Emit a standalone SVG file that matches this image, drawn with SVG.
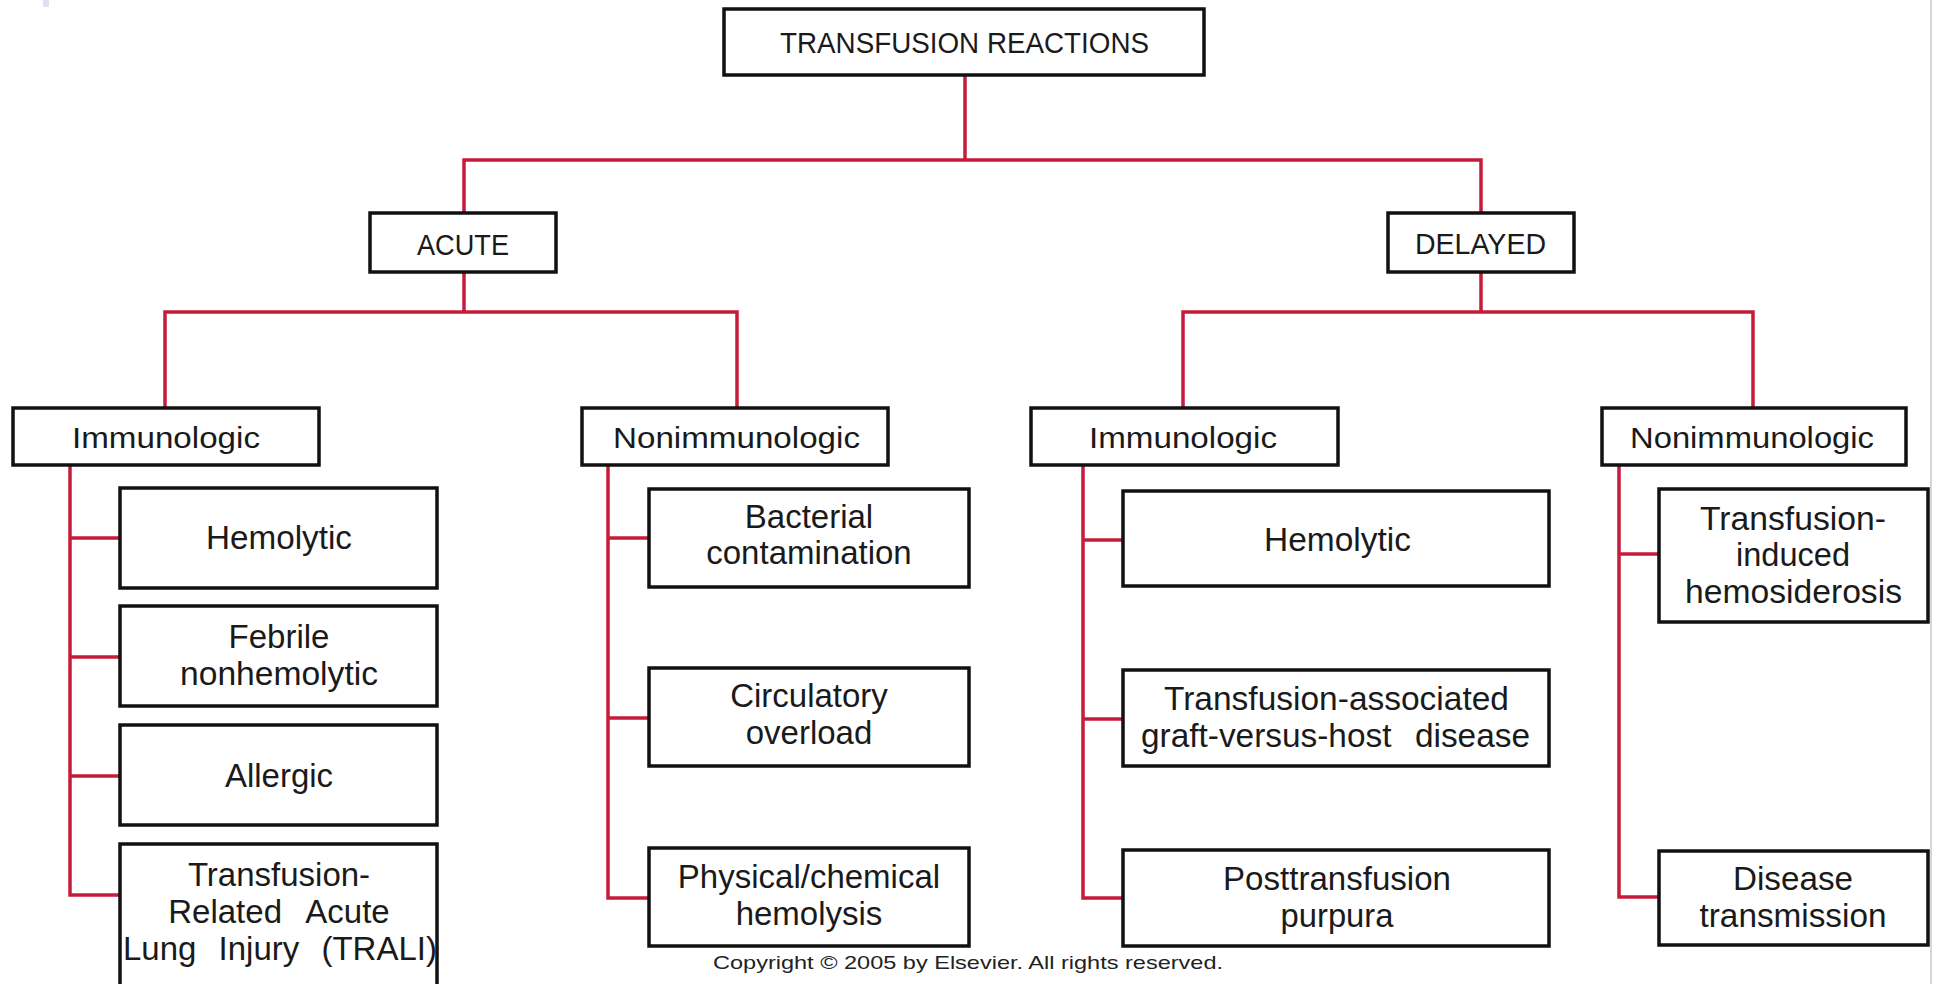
<svg xmlns="http://www.w3.org/2000/svg" width="1934" height="984" viewBox="0 0 1934 984">
<style>
.box{fill:#fff;stroke:#111;stroke-width:3.5}
.ln{fill:none;stroke:#c61c3c;stroke-width:3.5;stroke-linecap:square}
.hd{font-family:"Liberation Sans",Arial,sans-serif;font-size:29px;fill:#1a1a1a;text-anchor:middle}
.tx{font-family:"Liberation Sans",Arial,sans-serif;font-size:33px;fill:#1a1a1a;text-anchor:middle}
.cp{font-family:"Liberation Sans",Arial,sans-serif;font-size:19px;fill:#222;text-anchor:middle}
</style>
<rect x="0" y="0" width="1934" height="984" fill="#fff"/>
<rect x="43" y="0" width="6" height="7" fill="#e4def2"/>
<line x1="1931" y1="0" x2="1931" y2="984" stroke="#c8c8c8" stroke-width="1.5"/>
<g id="connectors">
<path class="ln" d="M965 75V160M464 160H1481M464 160V213M1481 160V213"/>
<path class="ln" d="M464 272V312M165 312H737M165 312V407M737 312V407"/>
<path class="ln" d="M1481 272V312M1183 312H1753M1183 312V407M1753 312V407"/>
<path class="ln" d="M70 465V895M70 538H120M70 657H120M70 776H120M70 895H120"/>
<path class="ln" d="M608 465V898M608 538H649M608 718H649M608 898H649"/>
<path class="ln" d="M1083 465V898M1083 540H1123M1083 719H1123M1083 898H1123"/>
<path class="ln" d="M1619 465V897M1619 554H1659M1619 897H1659"/>
</g>
<g id="root"><rect class="box" x="724" y="9" width="480" height="66"/><text class="hd" x="964.5" y="53" textLength="369" lengthAdjust="spacingAndGlyphs">TRANSFUSION REACTIONS</text></g>
<g id="acute"><rect class="box" x="370" y="213" width="186" height="59"/><text class="hd" x="463" y="255" textLength="92" lengthAdjust="spacingAndGlyphs">ACUTE</text></g>
<g id="delayed"><rect class="box" x="1388" y="213" width="186" height="59"/><text class="hd" x="1480.5" y="254" textLength="131" lengthAdjust="spacingAndGlyphs">DELAYED</text></g>
<g id="acute-immunologic"><rect class="box" x="13" y="408" width="306" height="57"/><text class="hd" x="166" y="448" textLength="188" lengthAdjust="spacingAndGlyphs">Immunologic</text></g>
<g id="acute-nonimmunologic"><rect class="box" x="582" y="408" width="306" height="57"/><text class="hd" x="736.5" y="448" textLength="247" lengthAdjust="spacingAndGlyphs">Nonimmunologic</text></g>
<g id="delayed-immunologic"><rect class="box" x="1031" y="408" width="307" height="57"/><text class="hd" x="1183" y="448" textLength="188" lengthAdjust="spacingAndGlyphs">Immunologic</text></g>
<g id="delayed-nonimmunologic"><rect class="box" x="1602" y="408" width="304" height="57"/><text class="hd" x="1752" y="448" textLength="244" lengthAdjust="spacingAndGlyphs">Nonimmunologic</text></g>
<g id="a-hemolytic"><rect class="box" x="120" y="488" width="317" height="100"/><text class="tx" x="279" y="549" textLength="146" lengthAdjust="spacingAndGlyphs">Hemolytic</text></g>
<g id="a-febrile"><rect class="box" x="120" y="606" width="317" height="100"/><text class="tx" x="279" y="648">Febrile</text><text class="tx" x="279" y="685" textLength="198" lengthAdjust="spacingAndGlyphs">nonhemolytic</text></g>
<g id="a-allergic"><rect class="box" x="120" y="725" width="317" height="100"/><text class="tx" x="279" y="787">Allergic</text></g>
<g id="a-trali"><rect class="box" x="120" y="844" width="317" height="150"/><text class="tx" x="279" y="886">Transfusion-</text><text class="tx" x="279" y="923" word-spacing="16">Related Acute</text><text class="tx" x="280" y="960" word-spacing="13">Lung Injury (TRALI)</text></g>
<g id="a-bacterial"><rect class="box" x="649" y="489" width="320" height="98"/><text class="tx" x="809" y="528">Bacterial</text><text class="tx" x="809" y="564">contamination</text></g>
<g id="a-circulatory"><rect class="box" x="649" y="668" width="320" height="98"/><text class="tx" x="809" y="707">Circulatory</text><text class="tx" x="809" y="744">overload</text></g>
<g id="a-physical"><rect class="box" x="649" y="848" width="320" height="98"/><text class="tx" x="809" y="888">Physical/chemical</text><text class="tx" x="809" y="925">hemolysis</text></g>
<g id="d-hemolytic"><rect class="box" x="1123" y="491" width="426" height="95"/><text class="tx" x="1337.5" y="551" textLength="147" lengthAdjust="spacingAndGlyphs">Hemolytic</text></g>
<g id="d-tagvhd"><rect class="box" x="1123" y="670" width="426" height="96"/><text class="tx" x="1336.5" y="710" textLength="345" lengthAdjust="spacingAndGlyphs">Transfusion-associated</text><text class="tx" x="1335.5" y="747" textLength="389" lengthAdjust="spacingAndGlyphs" word-spacing="14">graft-versus-host disease</text></g>
<g id="d-ptp"><rect class="box" x="1123" y="850" width="426" height="96"/><text class="tx" x="1337" y="890" textLength="228" lengthAdjust="spacingAndGlyphs">Posttransfusion</text><text class="tx" x="1337" y="927" textLength="113" lengthAdjust="spacingAndGlyphs">purpura</text></g>
<g id="d-hemosiderosis"><rect class="box" x="1659" y="489" width="269" height="133"/><text class="tx" x="1793" y="530" textLength="186" lengthAdjust="spacingAndGlyphs">Transfusion-</text><text class="tx" x="1793" y="566" textLength="114" lengthAdjust="spacingAndGlyphs">induced</text><text class="tx" x="1793.5" y="603" textLength="217" lengthAdjust="spacingAndGlyphs">hemosiderosis</text></g>
<g id="d-disease"><rect class="box" x="1659" y="851" width="269" height="94"/><text class="tx" x="1793" y="890" textLength="120" lengthAdjust="spacingAndGlyphs">Disease</text><text class="tx" x="1793" y="927" textLength="187" lengthAdjust="spacingAndGlyphs">transmission</text></g>
<text class="cp" x="968" y="969" textLength="510" lengthAdjust="spacingAndGlyphs">Copyright © 2005 by Elsevier. All rights reserved.</text>
</svg>
